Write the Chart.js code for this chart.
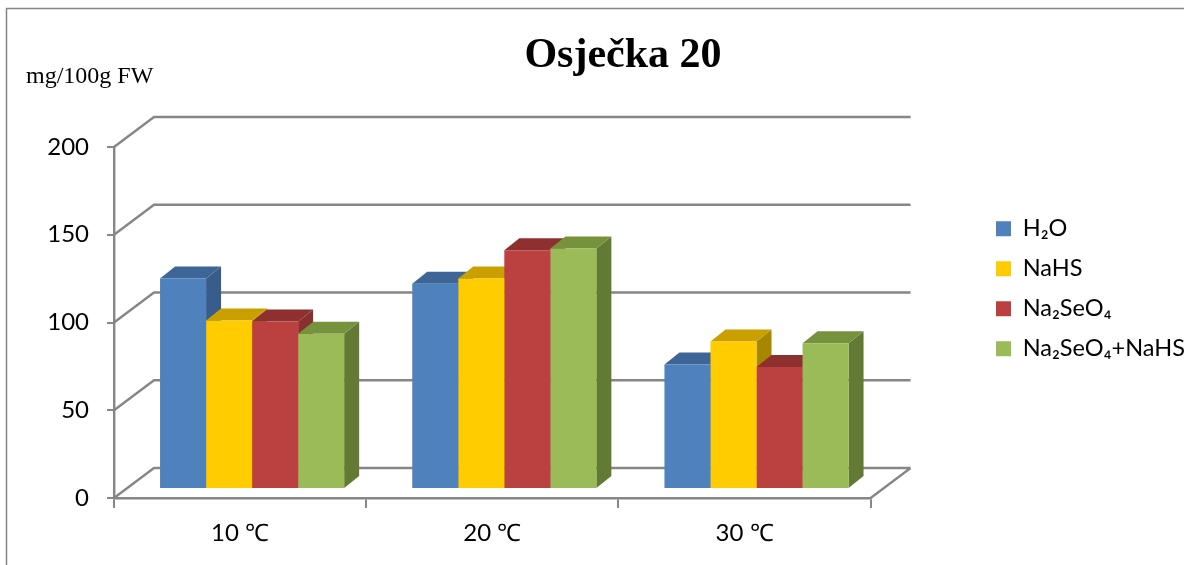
<!DOCTYPE html>
<html>
<head>
<meta charset="utf-8">
<title>Osječka 20</title>
<script src="https://cdn.jsdelivr.net/npm/chart.js@4"></script>
<style>
  html, body { margin: 0; padding: 0; background: #fff; overflow: hidden; }
  canvas { display: block; }
</style>
</head>
<body>
<canvas id="chart" width="1184" height="565"></canvas>
<script>
const categories = ['10 ℃', '20 ℃', '30 ℃'];
const h2o = [120, 117, 71];
const nahs = [96, 120, 84];
const naSe = [95.5, 136, 69.5];
const naSeNahs = [88.5, 137, 83];
const yTicks = [0, 50, 100, 150, 200];

const gray = '#868686';
const sansFont = 'Lato';
const serifFont = '"Liberation Serif"';

// 3D look: back wall sits behind the front axes, bars stand inside the floor
const wall = { dx: 40, dy: -30 };
const barShift = { dx: 12, dy: -9 };
const depth = { dx: 15, dy: -12 };

function poly(ctx, color, pts) {
  ctx.fillStyle = color;
  ctx.beginPath();
  pts.forEach((p, i) => i ? ctx.lineTo(p[0], p[1]) : ctx.moveTo(p[0], p[1]));
  ctx.closePath();
  ctx.fill();
}

const excel3d = {
  id: 'excel3d',
  afterLayout(chart) {
    // title and legend are not where the layout boxes would put them
    const t = chart.titleBlock;
    t.left = 0;
    t.right = 1246;
    const l = chart.legend;
    l.left = 979.5;
    l.right = 1184;
    l.top = 200.5;
    l.bottom = 500;
    l.adjustHitBoxes();
  },
  beforeDraw(chart) {
    const ctx = chart.ctx;
    ctx.save();
    ctx.strokeStyle = gray;
    ctx.lineWidth = 1.5;
    ctx.beginPath();
    ctx.moveTo(6.5, 570);
    ctx.lineTo(6.5, 8.5);
    ctx.lineTo(1190, 8.5);
    ctx.stroke();
    ctx.fillStyle = '#000';
    ctx.font = '24px ' + serifFont;
    ctx.textBaseline = 'alphabetic';
    ctx.fillText('mg/100g FW', 26, 83);
    ctx.restore();
  },
  beforeDatasetsDraw(chart) {
    const ctx = chart.ctx;
    const { left, right } = chart.chartArea;
    const y = chart.scales.y;
    ctx.save();
    ctx.strokeStyle = gray;
    ctx.lineWidth = 2.4;
    ctx.beginPath();
    yTicks.forEach(v => {
      const py = y.getPixelForValue(v);
      ctx.moveTo(left, py);
      ctx.lineTo(left + wall.dx, py + wall.dy);
      ctx.lineTo(right + wall.dx, py + wall.dy);
    });
    // floor, right edge
    const p0 = y.getPixelForValue(0);
    ctx.moveTo(right, p0);
    ctx.lineTo(right + wall.dx, p0 + wall.dy);
    ctx.stroke();
    ctx.restore();

    // sides and tops first, series by series; the library draws the front faces over them
    ctx.save();
    ctx.translate(barShift.dx, barShift.dy);
    chart.data.datasets.forEach((ds, i) => {
      chart.getDatasetMeta(i).data.forEach(bar => {
        const p = bar.getProps(['x', 'y', 'base', 'width'], true);
        const l = p.x - p.width / 2;
        const r = p.x + p.width / 2;
        poly(ctx, ds.sideColor, [[r, p.y], [r + depth.dx, p.y + depth.dy], [r + depth.dx, p.base + depth.dy], [r, p.base]]);
        poly(ctx, ds.topColor, [[l, p.y], [l + depth.dx, p.y + depth.dy], [r + depth.dx, p.y + depth.dy], [r, p.y]]);
      });
    });
  },
  afterDatasetsDraw(chart) {
    chart.ctx.restore();
  }
};

new Chart(document.getElementById('chart'), {
  type: 'bar',
  data: {
    labels: categories,
    datasets: [
      { label: 'H₂O', data: h2o, backgroundColor: '#4f81bd', topColor: '#3d6595', sideColor: '#385d8a' },
      { label: 'NaHS', data: nahs, backgroundColor: '#ffcc00', topColor: '#c9a000', sideColor: '#a88700' },
      { label: 'Na₂SeO₄', data: naSe, backgroundColor: '#bb4040', topColor: '#8f3030', sideColor: '#8a2f2f' },
      { label: 'Na₂SeO₄+NaHS', data: naSeNahs, backgroundColor: '#9bbb59', topColor: '#76923c', sideColor: '#637a35' }
    ]
  },
  options: {
    responsive: false,
    animation: false,
    layout: { padding: { left: 0, right: 98, top: 0, bottom: 0 } },
    datasets: { bar: { categoryPercentage: 0.73, barPercentage: 1, clip: false } },
    plugins: {
      tooltip: { enabled: false },
      title: {
        display: true,
        text: 'Osječka 20',
        color: '#000',
        font: { family: serifFont, size: 42, weight: 'bold', lineHeight: 1 },
        padding: { top: 35, bottom: 70 }
      },
      legend: {
        position: 'right',
        align: 'start',
        labels: { boxWidth: 15, boxHeight: 15, padding: 16.5, color: '#000', font: { family: sansFont, size: 23.5 } }
      }
    },
    scales: {
      x: {
        afterFit(scale) { scale.height = 67; },
        grid: { drawOnChartArea: false, color: gray, lineWidth: 2, tickLength: 10 },
        border: { color: gray, width: 2.4 },
        ticks: { color: '#000', padding: 11, maxRotation: 0, font: { family: sansFont, size: 24 } }
      },
      y: {
        min: 0,
        max: 200,
        afterFit(scale) { scale.width = 114; },
        grid: { drawOnChartArea: false, color: gray, lineWidth: 2, tickLength: 7 },
        border: { color: gray, width: 2.4 },
        ticks: { color: '#000', stepSize: 50, padding: 18, font: { family: sansFont, size: 24 } }
      }
    }
  },
  plugins: [excel3d]
});
</script>
</body>
</html>
